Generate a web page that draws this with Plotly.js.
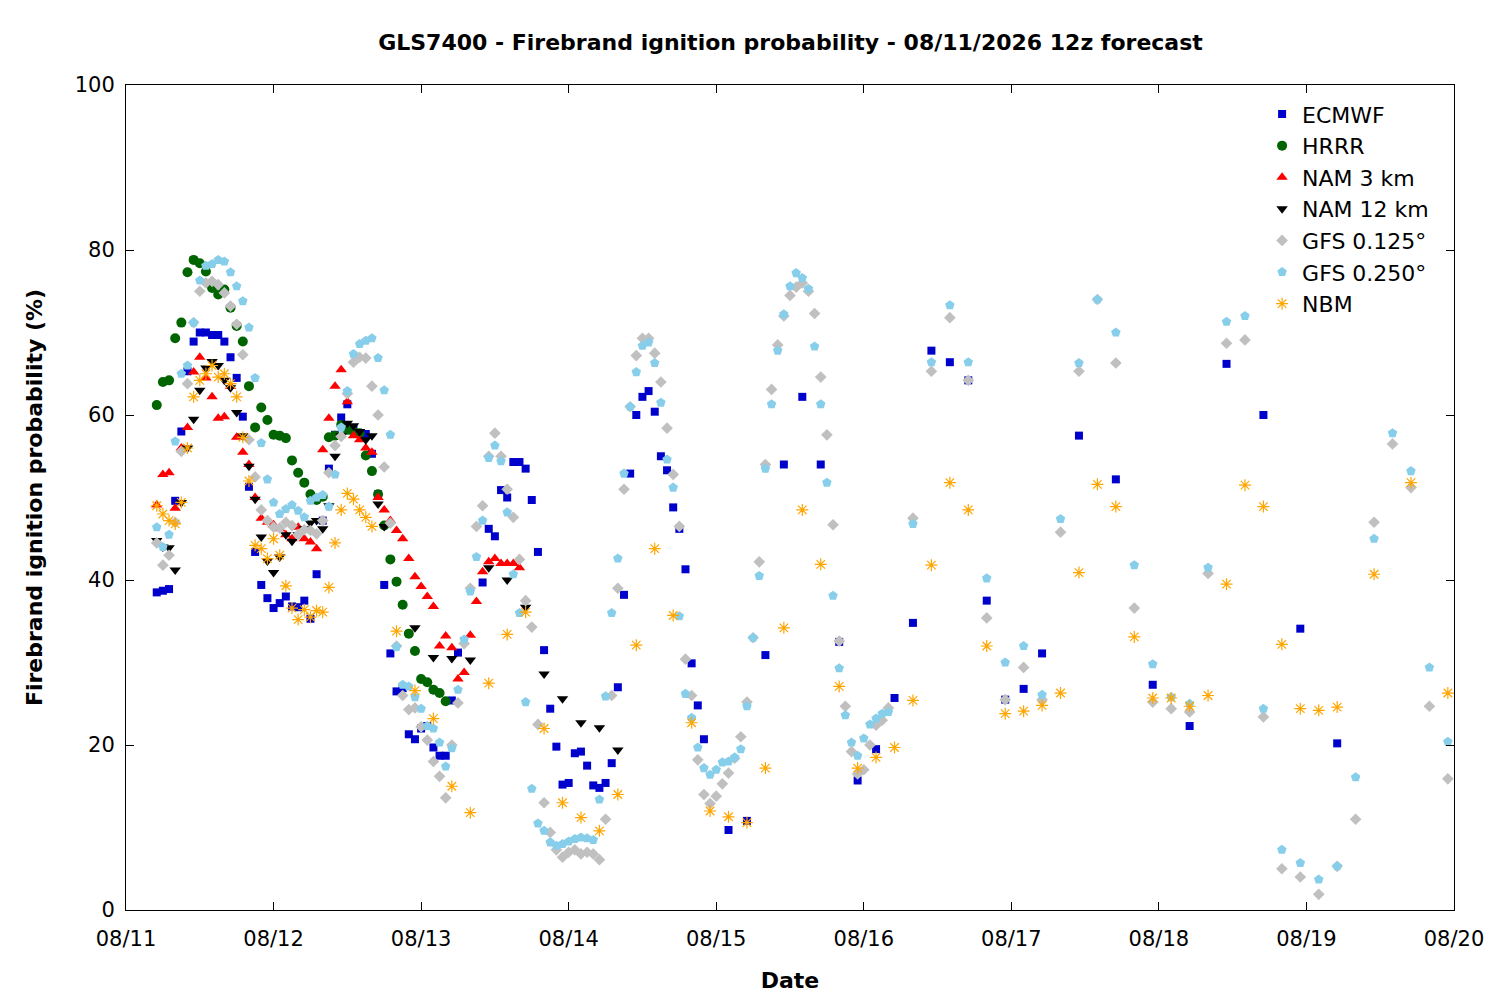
<!DOCTYPE html>
<html>
<head>
<meta charset="utf-8">
<script src="https://cdn.plot.ly/plotly-3.0.1.min.js"></script>
<style>body{margin:0;background:#fff}#plot{width:1500px;height:1000px}</style>
</head>
<body>
<div id="plot"></div>
<script>
// hours are local hours after 08/11 00:00
const hrrrStart = 5;
const hrrrVals = [61.2,64,64.2,69.3,71.2,77.3,78.8,78.4,77.4,75.4,74.6,75.2,73,70.8,68.9,63.5,58.5,60.9,59.4,57.6,57.5,57.2,54.5,53,51.8,50.4,49.7,50.1,57.3,57.5,58.8,58.2,58,57.8,55.1,53.2,50.4,46.6,42.5,39.8,37,33.5,31.4,28,27.6,26.7,26.3,25.3];

const nam3Start = 5;
const nam3Vals = [49.1,52.8,53,48.7,56,58.5,65.2,67,64.5,62.2,59.6,59.8,63.5,57.3,55.5,54,50,47.5,47,46.7,46.2,45.5,45,46.4,45,44.6,43.8,55.8,59.6,63.5,65.5,61.6,57.5,57,56,55.5,50,48.5,47.2,46,45,42.6,40.4,39.2,38,36.8,32,33.2,31.8,28,28.8,33.3,37.4,41,42.2,42.6,42,42,42,41.5];

const nam12Hours = [5,6,7,8,9,10,11,12,13,14,15,16,17,18,19,20,21,22,23,24,25,26,27,28,29,30,31,32,33,34,35,36,37,38,39,40,41,42,47,50,53,56,59,62,65,68,71,74,77,80];
const nam12Vals = [44.8,44,43.9,41.2,49.4,56,59.5,63,65.7,66.5,66,64.2,63.3,60.3,57.5,53.8,49.8,45.2,42.3,40.9,42.8,45.5,44.7,45.5,46.2,46.9,47.2,46.2,49,55,57.5,59,58.7,58,57,57.5,49.2,46.5,34.2,30.6,30.5,30.3,41.5,40,36.7,28.6,25.6,22.7,22.1,19.4];

const ecHourly1 = [38.5,38.7,38.9,49.6,58,65.3,68.9,70,70,69.7,69.7,68.9,67,64.5,59.8,51.3,43.4,39.4,37.8,36.6,37.2,38,36.8,36.7,37.5,35.3,40.7,47.2,53.5,57.6,59.7,61.3,58.4,57.8,57.7,55.3,50.4,39.4,31.1,26.5,26.9,21.3,20.7,22,22.3,19.7,18.7,18.7,25.4,31.2];
const ecHourly2 = [39.7,46.2,45.3,50.9,50,54.3,54.3,53.5,49.7,43.4,31.5,24.4,19.8,15.2,15.4,19,19.2,17.5,15.1,14.8,15.4,17.8,27,38.2,52.9,60,62.2,62.9,60.4,55,53.3,48.8,46.2,41.3,29.9,24.8,20.7];
const ec3h = [9.7,10.8,30.9,54,62.2,54,32.5,15.7,19.5,25.7,34.8,67.8,66.4,64.2,37.5,25.5,26.8,31.1];
const ec6h = [57.5,52.2,27.3,22.3,66.2,60,34.1,20.2];

const gfs125Hourly = [44.5,41.8,43,47,55.6,63.8,71.2,75,76,76.2,
  75.8,74.8,73.2,71,67.3,57,52.5,48.5,47.2,46.4,
  46.3,47,46.6,45.5,46.1,46,45.6,47.2,53,56.3,
  57.4,62.6,66.4,67,66.9,63.5,60,53.7,46.9,32,
  26,24.3,24.5,22.2,20.6,18,16.2,13.6,20,25.1,
  32.3,39,46.5,49,55,57.8,55,51,47.6,42.5,
  37.5,34.3,22.5,13,9.4,7.3,6.4,7,7.3,6.8,
  7,6.8,6.1,11,26,39,51,61,67.2,69.3,
  69.3,67.5,64,58.4,52.8,46.5,30.4,26,18.2,14,
  12.9,13.8,15.3,16.6,18.4,21,25.2,33,42.2,54,
  63.1,68.5,72,74.5,75.5,76,75,72.3,64.6,57.6,
  46.7,32.6,24.7,19.2,16.5,17,20,22.4,23,24.5];
const gfs125Late = [47.5,65.3,71.8,64.2,35.4,25.5,29.4,25.5,45.8,65.3,74,66.3,36.6,25.2,24.4,24,40.8,68.7,69.1,23.4,5,4,1.9,5.3,11,47,56.5,51.2,24.7,15.9];

const gfs250Hourly = [46.4,44,45.5,56.8,65,66,71.2,76.3,78.1,78.3,
  78.8,78.6,77.3,75.6,73.8,70.6,64.5,56.6,52.2,49.4,
  48,48.6,49.1,48.4,47.6,49.6,50,50.3,48.9,52.8,
  58.5,62.9,67.4,68.6,69,69.3,66.9,63,57.6,31.9,
  27.3,27.1,25.8,24.4,22.3,22,20.3,17.4,19.6,26.7,
  32.8,38.6,42.8,47.2,54.8,56.3,54.4,48.2,40.7,36,
  25.2,14.7,10.5,9.6,8.2,7.8,8,8.3,8.6,8.8,
  8.7,8.5,13.4,25.9,36,42.6,52.9,61,65.2,68.4,
  68.8,66.3,61.5,54.6,51.2,35.6,26.2,23.3,19.7,17.2,
  16.4,17,17.9,18,18.5,19.5,24.7,33,40.5,53.5,
  61.3,67.8,72.2,75.6,77.2,76.6,75.3,68.3,61.3,51.8,
  38.1,29.3,23.6,20.3,18.7,20.8,22.5,23.2,23.8,24];
const gfs250Late = [46.8,66.4,73.3,66.4,40.2,30,32,26.1,47.4,66.3,74,70,41.8,29.8,25.8,25,41.5,71.3,72,24.4,7.3,5.7,3.7,5.3,16.1,45,57.8,53.2,29.4,20.4];

const nbmHourly = [49,48,47.2,46.8,49.4,56,62.2,64.2,65,66,64.6,65,63.8,62.2,57.3,52,44.2,43.8,42.6,45,43,39.3,36.6,35.2,36.4,35.5,36.3,36.1,39.1,44.5,48.5,50.5,49.8,48.5,47.6,46.5];
const nbm3h = [33.8,26.6,23.2,15,11.8,27.5,33.4,36.1,22,13,11.2,9.6,14,32.1,43.8,35.7,22.7,12,11.3,10.6,17.2,34.2,48.5,41.9,27.1,17.2,18.5,19.7,25.4,41.8,51.8,48.5,32,23.8,24.1,24.8,26.3,40.9,51.6,48.9,33.1,25.7,25.7,24.7,26,39.5,51.5,48.9,32.2,24.4,24.2,24.6];
const nbm6h = [40.7,51.8,26.3];

const dayLabels = ['08/11','08/12','08/13','08/14','08/15','08/16','08/17','08/18','08/19','08/20'];

function hrs(start, step, n) { const a = []; for (let i = 0; i < n; i++) a.push(start + i * step); return a; }
function toDate(h) {
  const d = new Date(Date.UTC(2026, 7, 11) + h * 3600e3);
  return d.toISOString().slice(0, 19).replace('T', ' ');
}
function dates(hs) { return hs.map(toDate); }

const ecHours = hrs(5,1,ecHourly1.length).concat(hrs(58,1,ecHourly2.length), hrs(98,3,ec3h.length), hrs(155,6,ec6h.length));
const ecVals = ecHourly1.concat(ecHourly2, ec3h, ec6h);
const g125Hours = hrs(5,1,gfs125Hourly.length).concat(hrs(128,3,gfs125Late.length));
const g250Hours = hrs(5,1,gfs250Hourly.length).concat(hrs(128,3,gfs250Late.length));
const nbmHours = hrs(5,1,nbmHourly.length).concat(hrs(44,3,nbm3h.length), hrs(203,6,nbm6h.length));

function tr(name, hs, ys, marker) {
  return { x: dates(hs), y: ys, name: name, type: 'scatter', mode: 'markers', marker: marker, hoverinfo: 'skip' };
}

const traces = [
  tr('ECMWF', ecHours, ecVals, { symbol: 'square', color: '#0000cc', size: 8 }),
  tr('HRRR', hrs(hrrrStart,1,hrrrVals.length), hrrrVals, { symbol: 'circle', color: '#006400', size: 10 }),
  tr('NAM 3 km', hrs(nam3Start,1,nam3Vals.length), nam3Vals, { symbol: 'triangle-up', color: '#ff0000', size: 10 }),
  tr('NAM 12 km', nam12Hours, nam12Vals, { symbol: 'triangle-down', color: '#000000', size: 10 }),
  tr('GFS 0.125°', g125Hours, gfs125Hourly.concat(gfs125Late), { symbol: 'diamond', color: '#c0c0c0', size: 9 }),
  tr('GFS 0.250°', g250Hours, gfs250Hourly.concat(gfs250Late), { symbol: 'pentagon', color: '#87ceeb', size: 10 }),
  tr('NBM', nbmHours, nbmHourly.concat(nbm3h, nbm6h), { symbol: 'asterisk-open', color: '#ffa500', size: 10, line: { color: '#ffa500', width: 1.2 } })
];

const tickVals = dayLabels.map((_, i) => toDate(i * 24));

Plotly.newPlot('plot', traces, {
  width: 1500, height: 1000,
  font: { family: 'DejaVu Sans', size: 21, color: '#000' },
  title: { text: '<b>GLS7400 - Firebrand ignition probability - 08/11/2026 12z forecast</b>', x: 0.527, y: 0.965, font: { size: 22 } },
  margin: { l: 126, r: 46, t: 85, b: 90 },
  xaxis: {
    type: 'date', range: [toDate(0), toDate(216)],
    tickvals: tickVals, ticktext: dayLabels, tickfont: { size: 21 }, ticklabelstandoff: 10,
    showgrid: false, zeroline: false, showline: true, mirror: 'ticks',
    ticks: 'inside', ticklen: 8, linecolor: '#000', tickcolor: '#000',
    title: { text: '<b>Date</b>', font: { size: 22 }, standoff: 22 }
  },
  yaxis: {
    range: [0, 100], dtick: 20, tickfont: { size: 21 }, ticklabelstandoff: 6,
    showgrid: false, zeroline: false, showline: true, mirror: 'ticks',
    ticks: 'inside', ticklen: 8, linecolor: '#000', tickcolor: '#000',
    title: { text: '<b>Firebrand ignition probability (%)</b>', font: { size: 22 }, standoff: 26 }
  },
  legend: { x: 0.985, y: 0.99, xanchor: 'right', yanchor: 'top', bgcolor: 'rgba(0,0,0,0)', font: { size: 22 }, itemwidth: 30, tracegroupgap: 0 },
  plot_bgcolor: '#fff', paper_bgcolor: '#fff'
}, { displayModeBar: false });
</script>
</body>
</html>
